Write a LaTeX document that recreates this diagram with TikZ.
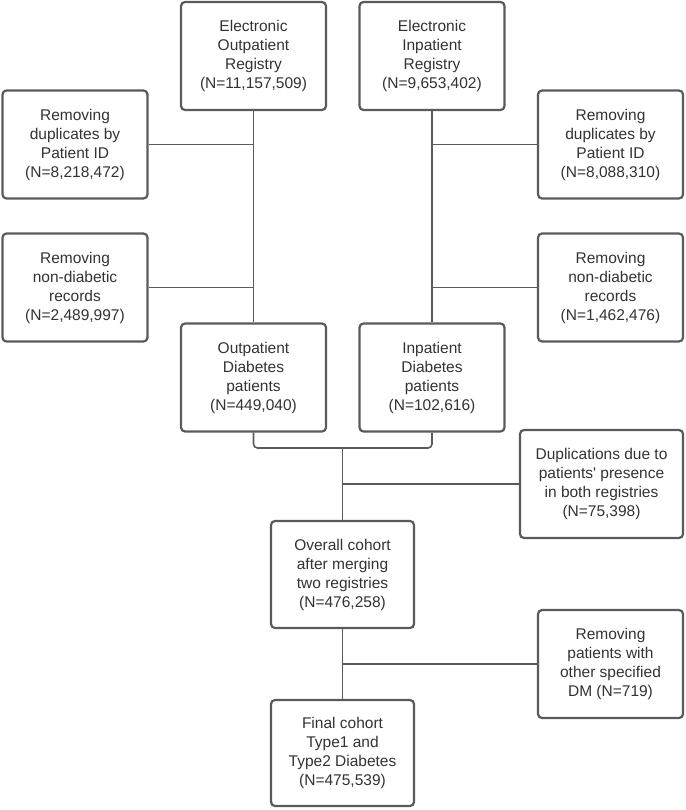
\documentclass[tikz,border=0pt]{standalone}
\usepackage{fontspec}
\setmainfont{Liberation Sans}
\definecolor{lc}{HTML}{5A5A5A}
\definecolor{tc}{HTML}{333333}
\begin{document}
\begin{tikzpicture}[x=1pt,y=1pt,
  box/.style={draw=lc,line width=2.2pt,rounded corners=4pt,fill=white,
    minimum width=145pt,minimum height=108pt,inner sep=0pt,align=center,
    text=tc,font=\fontsize{15.5}{19}\selectfont},
  conn/.style={draw=lc,line width=1.6pt}]
\useasboundingbox (0,0) rectangle (685,-810);
\node[box] (eor) at (253.5,-56) {Electronic\\Outpatient\\Registry\\(N=11,157,509)};
\node[box] (eir) at (432,-56) {Electronic\\Inpatient\\Registry\\(N=9,653,402)};
\node[box] (ldup) at (75,-144.5) {Removing\\duplicates by\\Patient ID\\(N=8,218,472)};
\node[box] (rdup) at (610.5,-144.5) {Removing\\duplicates by\\Patient ID\\(N=8,088,310)};
\node[box] (lnon) at (75,-287.5) {Removing\\non-diabetic\\records\\(N=2,489,997)};
\node[box] (rnon) at (610.5,-287.5) {Removing\\non-diabetic\\records\\(N=1,462,476)};
\node[box] (op) at (253.5,-377.5) {Outpatient\\Diabetes\\patients\\(N=449,040)};
\node[box] (ip) at (432,-377.5) {Inpatient\\Diabetes\\patients\\(N=102,616)};
\node[box,minimum width=163pt] (dreg) at (601.5,-484) {Duplications due to\\patients\textquotesingle\ presence\\in both registries\\(N=75,398)};
\node[box,minimum width=143pt,minimum height=107pt] (ovr) at (342.5,-574.5) {Overall cohort\\after merging\\two registries\\(N=476,258)};
\node[box] (oth) at (610.5,-664) {Removing\\patients with\\other specified\\DM (N=719)};
\node[box,minimum width=143pt,minimum height=106pt] (fin) at (342.5,-753) {Final cohort\\Type1 and\\Type2 Diabetes\\(N=475,539)};
\coordinate (m) at (342.5,-448);
\draw[conn] (eor.south) -- (op.north);
\draw[conn] (eir.south) -- (ip.north);
\draw[conn] (ldup.east) -- (ldup.east -| eor.south);
\draw[conn] (lnon.east) -- (lnon.east -| eor.south);
\draw[conn] (rdup.west) -- (rdup.west -| eir.south);
\draw[conn] (rnon.west) -- (rnon.west -| eir.south);
\draw[conn,rounded corners=4pt] (op.south) |- (m) -| (ip.south);
\draw[conn] (m) -- (ovr.north);
\draw[conn] (dreg.west) -- (dreg.west -| m);
\draw[conn] (ovr.south) -- (fin.north);
\draw[conn] (oth.west) -- (oth.west -| ovr.south);
\end{tikzpicture}
\end{document}
